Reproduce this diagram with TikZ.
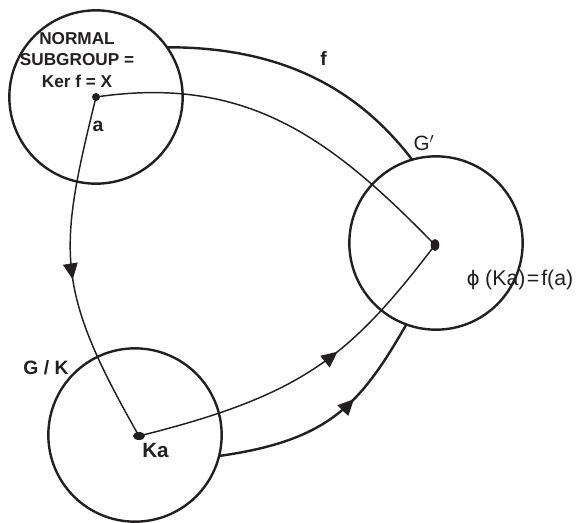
\documentclass[tikz,border=0pt]{standalone}
\usepackage{fontspec}
\setmainfont{Liberation Sans}
\newfontfamily\plainbold{Liberation Sans Bold}
\newfontfamily\symfont{DejaVu Sans}
\usetikzlibrary{arrows.meta,decorations.markings,shapes.geometric}
\definecolor{ink}{HTML}{231F20}
\begin{document}
\begin{tikzpicture}[x=0.75pt,y=-0.75pt,
  setcircle/.style={circle,draw=ink,line width=1.8pt,minimum size=130pt,inner sep=0pt,outer sep=0pt},
  dotnode/.style={ellipse,fill=ink,inner sep=0pt,outer sep=0pt},
  thickarc/.style={line width=1.8pt,draw=ink},
  thinarc/.style={line width=1.1pt,draw=ink},
  midarrow/.style={postaction={decorate},decoration={markings,mark=at position #1 with {\arrow[ink]{Triangle[length=12pt,width=11pt]}}}},
  boldlbl/.style={font=\plainbold\fontsize{14.5}{17}\selectfont,inner sep=0pt,text=ink},
  kalbl/.style={font=\plainbold\fontsize{15.5}{17}\selectfont,inner sep=0pt,text=ink},
  blocklbl/.style={font=\plainbold\fontsize{12.9}{15}\selectfont,inner sep=0pt,text=ink},
  plainlbl/.style={font=\fontsize{16}{18}\selectfont,inner sep=0pt,text=ink}]
\useasboundingbox (0,0) rectangle (582,522);
% sets
\node[setcircle] (N) at (96,97) {};
\node[setcircle] (Gp) at (436,243) {};
\node[setcircle] (GK) at (135,435) {};
% points
\node[dotnode,minimum width=6pt,minimum height=6pt] (a) at (96,97) {};
\node[dotnode,minimum width=6.5pt,minimum height=9pt] (gp) at (435,245) {};
\node[dotnode,minimum width=9pt,minimum height=6pt] (ka) at (139,436) {};
% connectors
\draw[thickarc] (N.35) .. controls (278,47) and (356,86) .. (Gp.106);
\draw[thinarc] (a.center) .. controls (246,75) and (330,137) .. (gp.center);
\draw[thinarc,midarrow=0.52] (a.center) .. controls (58,252) and (54,287) .. (ka.center);
\draw[thinarc,midarrow=0.6] (ka.center) .. controls (304,395) and (350,356) .. (gp.center);
\draw[thickarc,midarrow=0.62] (GK.-14.5) .. controls (329,440.5) and (360,405) .. (Gp.250.6);
% labels
\node[blocklbl,anchor=base] (t1) at (77,44.3) {NORMAL};
\node[blocklbl,anchor=base] (t2) at (77,65.3) {SUBGROUP =};
\node[blocklbl,anchor=base] (t3) at (77,87.3) {Ker f = X};
\node[boldlbl,anchor=base] (la) at (98,131.7) {a};
\node[kalbl,anchor=base] (lka) at (155.5,457.3) {Ka};
\node[boldlbl,anchor=base] (lgk) at (46,374.5) {G / K};
\node[boldlbl,anchor=base] (lf) at (323.5,65) {f};
\node[font=\fontsize{15.5}{17}\selectfont,inner sep=0pt,text=ink,anchor=base] (lgp) at (424,150) {G$'$};
\node[plainlbl,anchor=base] (lphi) at (520,285) {{\symfont\fontsize{15}{18}\selectfont ϕ}\kern4pt(Ka)\kern1pt=\kern1.5pt f(a)};
\end{tikzpicture}
\end{document}
